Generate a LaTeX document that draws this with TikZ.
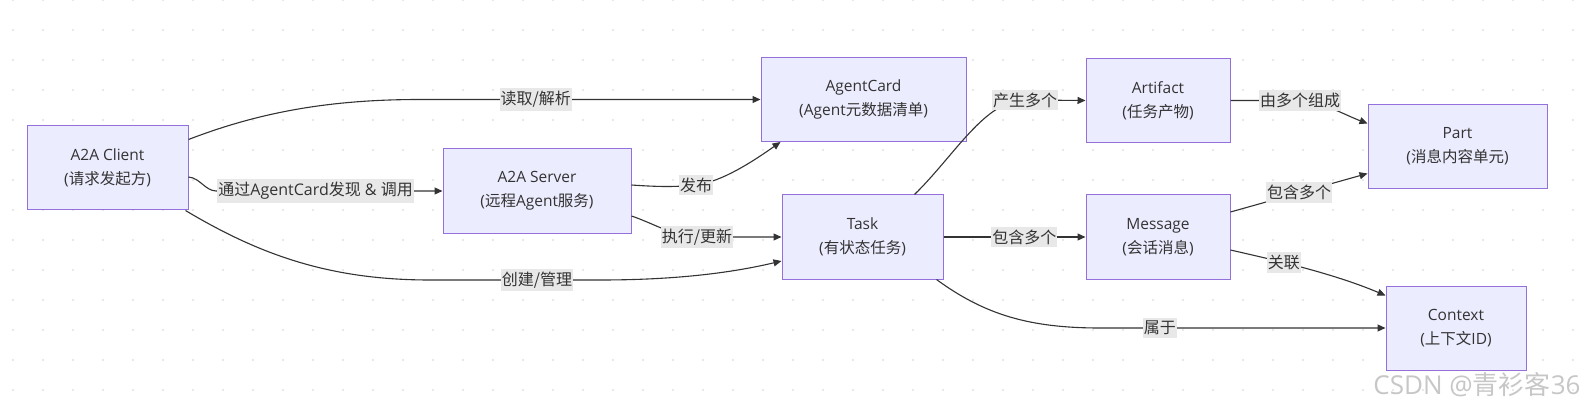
\documentclass[tikz,border=0pt]{standalone}
\usepackage{fontspec}
\setmainfont{Open Sans}
\newfontfamily\cjkfont{Noto Sans CJK SC}
\newcommand{\zh}[1]{{\cjkfont #1}}
\usetikzlibrary{arrows.meta,calc}
\definecolor{nodefill}{HTML}{ECECFF}
\definecolor{nodeline}{HTML}{9370DB}
\definecolor{lblbg}{HTML}{E8E8E8}
\definecolor{ink}{HTML}{333333}
\definecolor{dotc}{HTML}{E2E2E2}
\begin{document}
\begin{tikzpicture}[x=1pt,y=-1pt,
  box/.style={draw=nodeline, fill=nodefill, line width=1pt, text=ink, align=center,
    inner sep=0pt, minimum height=84pt, font=\fontsize{15.5}{24}\selectfont},
  lbl/.style={fill=lblbg, text=ink, inner xsep=1pt, inner ysep=3pt, font=\fontsize{16}{18}\selectfont},
  edge/.style={draw=ink, line width=1.1pt, -{Triangle[length=8pt,width=7pt]}},
]
\useasboundingbox (0,0) rectangle (1587,414);
\fill[white] (0,0) rectangle (1587,414);
\foreach \i in {0,...,52}{\foreach \j in {0,...,13}{\fill[dotc] (13+30*\i,30*\j) circle (1.2pt);}}

\node[box, minimum width=161pt] (client) at (107.5,168) {A2A Client\\(\zh{请求发起方})};
\node[box, minimum width=188pt] (server) at (537,191) {A2A Server\\(\zh{远程}Agent\zh{服务})};
\node[box, minimum width=205pt] (agentcard) at (863.5,99.5) {AgentCard\\(Agent\zh{元数据清单})};
\node[box, minimum width=161pt] (task) at (862.5,237) {Task\\(\zh{有状态任务})};
\node[box, minimum width=144pt] (artifact) at (1158,100.5) {Artifact\\(\zh{任务产物})};
\node[box, minimum width=144pt] (message) at (1158,237) {Message\\(\zh{会话消息})};
\node[box, minimum width=179pt] (part) at (1457.5,146.5) {Part\\(\zh{消息内容单元})};
\node[box, minimum width=140pt] (context) at (1456,328) {Context\\(\zh{上下文}ID)};

\draw[edge] ($(client.north east)+(0,14)$) .. controls (260,112) and (330,99.5) .. (420,99.5)
  -- node[lbl,pos=0.34] (l1) {\zh{读取/解析}} (agentcard.west);
\draw[edge] ($(client.east)+(0,9)$) .. controls (200,178) and (205,190.5) .. (216,191)
  -- node[lbl,pos=0.44] (l2) {\zh{通过}AgentCard\zh{发现} \& \zh{调用}} (server.west);
\draw[edge] ($(client.south east)+(-3,0)$) .. controls (260,255) and (330,280) .. (430,280)
  -- node[lbl,pos=0.63] (l3) {\zh{创建/管理}} (600,280)
  .. controls (680,280) and (735,272) .. ($(task.west)+(0,24)$);
\draw[edge] ($(server.east)+(0,-6)$) .. controls (660,187) and (676,187) .. (696,185)
  node[lbl] (l4) {\zh{发布}} .. controls (722,182) and (755,160) .. ($(agentcard.south west)+(20,0)$);
\draw[edge] ($(server.east)+(0,25)$) .. controls (655,224) and (675,237) .. (697,237)
  node[lbl] (l5) {\zh{执行/更新}} -- (task.west);
\draw[edge] ($(task.north east)+(-29,0)$) .. controls (955,155) and (985,100) .. (1025,100)
  node[lbl] (l6) {\zh{产生多个}} -- (artifact.west);
\draw[edge] (task.east) -- node[lbl,pos=0.57] (l7) {\zh{包含多个}} (message.west);
\draw[edge] ($(task.south east)+(-7,0)$) .. controls (985,315) and (1030,328) .. (1100,328)
  -- node[lbl,pos=0.21] (l8) {\zh{属于}} (context.west);
\draw[edge] (artifact.east) -- (1300,100.5) node[lbl] (l9) {\zh{由多个组成}}
  .. controls (1325,103) and (1345,115) .. ($(part.west)+(0,-23)$);
\draw[edge] ($(message.east)+(0,-25)$) -- node[lbl,pos=0.5] (l10) {\zh{包含多个}} ($(part.west)+(0,27)$);
\draw[edge] ($(message.east)+(0,13)$) .. controls (1265,258) and (1330,272) .. ($(context.north west)+(0,10)$)
  node[lbl,pos=0.4] (l11) {\zh{关联}};

\node[text=black!22, font=\fontsize{26}{28}\selectfont, anchor=east] (wm) at (1584,385) {CSDN @\zh{青衫客}36};
\end{tikzpicture}
\end{document}
